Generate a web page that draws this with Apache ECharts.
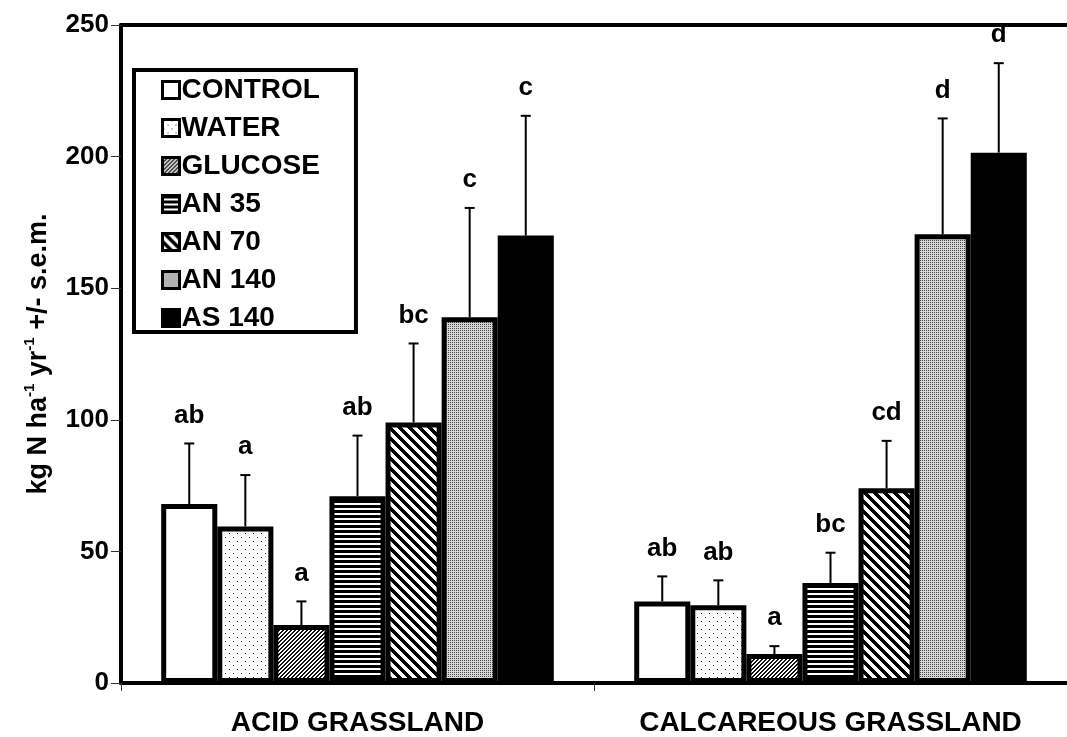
<!DOCTYPE html>
<html>
<head>
<meta charset="utf-8">
<script src="https://cdn.jsdelivr.net/npm/echarts@6/dist/echarts.min.js"></script>
<style>
  html, body { margin: 0; padding: 0; background: #fff; }
  #chart { width: 1067px; height: 737px; }
</style>
</head>
<body>
<div id="chart"></div>
<script>
// Soil N mineralisation by treatment, two grassland types
const groups = ['ACID GRASSLAND', 'CALCAREOUS GRASSLAND'];
const treatments = ['CONTROL', 'WATER', 'GLUCOSE', 'AN 35', 'AN 70', 'AN 140', 'AS 140'];

const acidMean = [68, 59.5, 22, 71, 99, 139, 170];
const acidSem = [23, 19.5, 9, 23, 30, 41.5, 45.5];
const acidLetters = ['ab', 'a', 'a', 'ab', 'bc', 'c', 'c'];

const calcMean = [31, 29.5, 11, 38, 74, 170.5, 201.5];
const calcSem = [9.5, 9.5, 3, 11.5, 18, 44, 34];
const calcLetters = ['ab', 'ab', 'a', 'bc', 'cd', 'd', 'd'];

const yTicks = { min: 0, max: 250, interval: 50 };

const FONT = '"Liberation Sans", Arial, sans-serif';
const CAT_GAP = 0.17;

// Fill textures built pixel by pixel
function texture(w, h, pixel) {
  const c = document.createElement('canvas');
  c.width = w; c.height = h;
  const ctx = c.getContext('2d');
  const img = ctx.createImageData(w, h);
  for (let y = 0; y < h; y++) {
    for (let x = 0; x < w; x++) {
      const v = pixel(x, y);
      const k = (y * w + x) * 4;
      img.data[k] = img.data[k + 1] = img.data[k + 2] = v;
      img.data[k + 3] = 255;
    }
  }
  ctx.putImageData(img, 0, 0);
  return { image: c, repeat: 'repeat' };
}

const fills = [
  '#ffffff',
  texture(8, 8, (x, y) => ((x === 1 && y === 1) || (x === 5 && y === 5)) ? 40 : 255),
  texture(4, 4, (x, y) => ((x + y) % 4 < 2) ? 20 : 255),
  texture(1, 5, (x, y) => (y % 5 < 3) ? 0 : 255),
  texture(10, 10, (x, y) => (((x - y) % 10 + 10) % 10 < 5) ? 0 : 255),
  texture(2, 2, (x, y) => (x === 0 && y === 0) ? 70 : 215),
  '#000000'
];

const barSeries = treatments.map((name, i) => ({
  name: name,
  type: 'bar',
  barGap: '0%',
  barCategoryGap: (CAT_GAP * 100) + '%',
  data: [acidMean[i], calcMean[i]],
  itemStyle: { color: fills[i], borderColor: '#000', borderWidth: 5 },
  z: 2
}));

// Upper error bars with significance letters
const errData = [];
[[acidMean, acidSem, acidLetters], [calcMean, calcSem, calcLetters]].forEach((g, gi) => {
  treatments.forEach((t, ti) => {
    errData.push([gi, g[0][ti], g[1][ti], ti, g[2][ti]]);
  });
});

const errorSeries = {
  type: 'custom',
  name: 'sem',
  data: errData,
  z: 5,
  renderItem: function (params, api) {
    const cat = api.value(0);
    const mean = api.value(1);
    const sem = api.value(2);
    const idx = api.value(3);
    const letter = errData[params.dataIndex][4];
    const band = api.size([1, 0])[0];
    const groupW = band * (1 - CAT_GAP);
    const barW = groupW / treatments.length;
    const base = api.coord([cat, mean]);
    const top = api.coord([cat, mean + sem]);
    const x = base[0] - groupW / 2 + barW * (idx + 0.5);
    const cap = 5;
    return {
      type: 'group',
      children: [
        { type: 'line', shape: { x1: x, y1: base[1], x2: x, y2: top[1] },
          style: { stroke: '#000', lineWidth: 2 } },
        { type: 'line', shape: { x1: x - cap, y1: top[1], x2: x + cap, y2: top[1] },
          style: { stroke: '#000', lineWidth: 2 } },
        { type: 'text', x: x, y: top[1] - 15,
          style: { text: letter, fill: '#000', font: 'bold 26px ' + FONT,
                   textAlign: 'center', textVerticalAlign: 'bottom' } }
      ]
    };
  }
};

const chart = echarts.init(document.getElementById('chart'), null, { renderer: 'canvas' });
chart.setOption({
  backgroundColor: '#fff',
  animation: false,
  grid: { left: 121, top: 25, bottom: 54, right: -6 },
  legend: {
    data: treatments,
    orient: 'vertical',
    left: 134, top: 70,
    itemWidth: 17, itemHeight: 17, itemGap: 10,
    padding: [6, 36, 0, 27],
    borderColor: '#000', borderWidth: 4, backgroundColor: '#fff',
    icon: 'rect',
    itemStyle: { borderColor: '#000', borderWidth: 3 },
    textStyle: { fontFamily: FONT, fontWeight: 'bold', fontSize: 28, lineHeight: 20,
                 color: '#000', padding: [0, 0, 0, -3] },
    selectedMode: false
  },
  xAxis: [{
    type: 'category',
    data: groups,
    axisLine: { show: true, lineStyle: { color: '#000', width: 4 } },
    axisTick: { show: true, interval: 0, length: 8, lineStyle: { color: '#333', width: 1 } },
    axisLabel: { interval: 0, hideOverlap: false, fontFamily: FONT, fontWeight: 'bold',
                 fontSize: 28, color: '#000', margin: 26 }
  }, {
    type: 'category',
    position: 'top',
    data: groups,
    axisLine: { show: true, lineStyle: { color: '#000', width: 4 } },
    axisTick: { show: false },
    axisLabel: { show: false }
  }],
  yAxis: {
    type: 'value',
    min: yTicks.min, max: yTicks.max, interval: yTicks.interval,
    splitLine: { show: false },
    axisLine: { show: true, lineStyle: { color: '#000', width: 4 } },
    axisTick: { show: true, length: 10, lineStyle: { color: '#333', width: 1 } },
    axisLabel: { fontFamily: FONT, fontWeight: 'bold', fontSize: 26, color: '#000', margin: 12 },
    name: 'kg N ha{sup|-1} yr{sup|-1} +/- s.e.m.',
    nameLocation: 'middle',
    nameRotate: 90,
    nameGap: 61,
    nameTextStyle: {
      fontFamily: FONT, fontWeight: 'bold', fontSize: 27, color: '#000', lineHeight: 32,
      rich: {
        sup: { fontFamily: FONT, fontWeight: 'bold', fontSize: 15, color: '#000',
               lineHeight: 32, verticalAlign: 'top', padding: [0, 0, 13, 0] }
      }
    }
  },
  series: barSeries.concat([errorSeries])
});
</script>
</body>
</html>
